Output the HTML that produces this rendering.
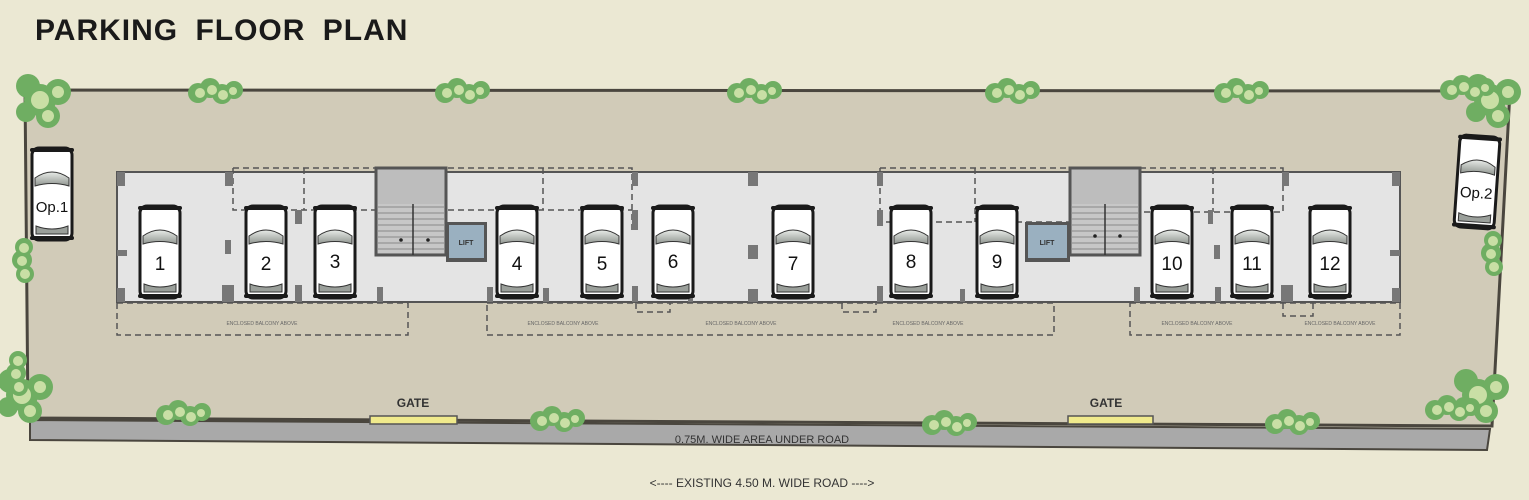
<!DOCTYPE html>
<html><head><meta charset="utf-8"><style>
html,body{margin:0;padding:0;background:#ebe8d3;}
svg{display:block}
text{font-family:"Liberation Sans",sans-serif;}
</style></head><body>
<svg width="1529" height="500" viewBox="0 0 1529 500" xmlns="http://www.w3.org/2000/svg">
<defs>
<linearGradient id="ws" x1="0" y1="0" x2="0" y2="1"><stop offset="0" stop-color="#e8ebe8"/><stop offset="1" stop-color="#8f958f"/></linearGradient>
<g id="car">
 <rect x="-20" y="0" width="40" height="92" rx="7" fill="#fff" stroke="#1a1a1a" stroke-width="3"/>
 <rect x="-22" y="0" width="44" height="4" rx="2" fill="#1a1a1a"/>
 <path d="M-17 30 Q0 18 17 30 L17 38 Q0 33 -17 38Z" fill="url(#ws)" stroke="#333" stroke-width="1"/>
 <path d="M-16 78 Q0 84 16 78 L16 86 L-16 86Z" fill="#9a9f9a" stroke="#333" stroke-width="1"/>
 <rect x="-22" y="88" width="44" height="4" rx="2" fill="#1a1a1a"/>
</g>
<g id="tree">
 <circle cx="0" cy="0" r="10" fill="#6fae62"/>
 <circle cx="12" cy="-5" r="10" fill="#6fae62"/>
 <circle cx="24" cy="1" r="10" fill="#6fae62"/>
 <circle cx="36" cy="-3" r="9" fill="#6fae62"/>
 <circle cx="2" cy="0" r="5" fill="#c9dfa5"/>
 <circle cx="14" cy="-3" r="5" fill="#c9dfa5"/>
 <circle cx="25" cy="2" r="5" fill="#c9dfa5"/>
 <circle cx="35" cy="-2" r="4" fill="#c9dfa5"/>
</g>
<g id="treev">
 <circle cx="0" cy="0" r="9" fill="#6fae62"/>
 <circle cx="-2" cy="13" r="10" fill="#6fae62"/>
 <circle cx="1" cy="27" r="9" fill="#6fae62"/>
 <circle cx="0" cy="1" r="5" fill="#c9dfa5"/>
 <circle cx="-2" cy="14" r="5" fill="#c9dfa5"/>
 <circle cx="1" cy="27" r="5" fill="#c9dfa5"/>
</g>
<g id="bigtree">
 <circle cx="0" cy="0" r="16" fill="#6fae62"/>
 <circle cx="18" cy="-8" r="13" fill="#6fae62"/>
 <circle cx="-12" cy="-14" r="12" fill="#6fae62"/>
 <circle cx="8" cy="16" r="12" fill="#6fae62"/>
 <circle cx="-14" cy="12" r="10" fill="#6fae62"/>
 <circle cx="0" cy="0" r="9" fill="#c9dfa5"/>
 <circle cx="18" cy="-8" r="6" fill="#c9dfa5"/>
 <circle cx="8" cy="16" r="6" fill="#c9dfa5"/>
</g>
</defs>

<text x="35" y="40" font-size="30" font-weight="bold" fill="#1a1a1a" letter-spacing="1" word-spacing="8">PARKING FLOOR PLAN</text>

<polygon points="25,90 1510,91 1492,426 28,418" fill="#d1cbb8" stroke="#4a463e" stroke-width="3"/>
<polygon points="30,420 1490,429 1487,450 30,440" fill="#a9a9a9" stroke="#4a463e" stroke-width="2"/>
<text x="762" y="443" font-size="11" fill="#333" text-anchor="middle">0.75M. WIDE AREA UNDER ROAD</text>
<text x="762" y="487" font-size="12" fill="#333" text-anchor="middle">&lt;---- EXISTING 4.50 M. WIDE ROAD ----&gt;</text>

<text x="413" y="407" font-size="12" font-weight="bold" fill="#333" text-anchor="middle">GATE</text>
<rect x="370" y="416" width="87" height="8" fill="#f0ea8c" stroke="#555" stroke-width="1.5"/>
<text x="1106" y="407" font-size="12" font-weight="bold" fill="#333" text-anchor="middle">GATE</text>
<rect x="1068" y="416" width="85" height="8" fill="#f0ea8c" stroke="#555" stroke-width="1.5"/>

<rect x="117" y="172" width="1283" height="130" fill="#e4e4e4" stroke="#555" stroke-width="2"/>
<g fill="none" stroke="#555" stroke-width="1.5" stroke-dasharray="6,4">
 <path d="M233 168 H376 M233 168 V210 H376 M304 168 V210"/>
 <path d="M448 168 H632 V230 M448 210 H632 M543 168 V210"/>
 <path d="M880 168 H1070 M880 168 V222 H1070 M975 168 V222"/>
 <path d="M1140 168 H1283 V212 H1140 M1213 168 V212"/>
 <rect x="117" y="303" width="291" height="32"/>
 <rect x="487" y="303" width="567" height="32"/>
 <rect x="1130" y="303" width="270" height="32"/>
 <path d="M636 303 V312 H670 V303 M842 303 V312 H876 V303 M1283 303 V316 H1313 V303"/>
</g>
<g font-size="5" fill="#666" text-anchor="middle">
 <text x="262" y="325">ENCLOSED BALCONY ABOVE</text>
 <text x="563" y="325">ENCLOSED BALCONY ABOVE</text>
 <text x="741" y="325">ENCLOSED BALCONY ABOVE</text>
 <text x="928" y="325">ENCLOSED BALCONY ABOVE</text>
 <text x="1197" y="325">ENCLOSED BALCONY ABOVE</text>
 <text x="1340" y="325">ENCLOSED BALCONY ABOVE</text>
</g>
<g fill="#777">
 <rect x="117" y="172" width="8" height="14"/><rect x="117" y="288" width="8" height="14"/><rect x="117" y="250" width="10" height="6"/>
 <rect x="225" y="172" width="8" height="14"/><rect x="225" y="240" width="6" height="14"/><rect x="222" y="285" width="12" height="17"/>
 <rect x="295" y="210" width="7" height="14"/><rect x="295" y="285" width="7" height="17"/>
 <rect x="377" y="287" width="6" height="15"/>
 <rect x="487" y="287" width="6" height="15"/><rect x="543" y="288" width="6" height="14"/>
 <rect x="632" y="172" width="6" height="14"/><rect x="632" y="210" width="6" height="20"/><rect x="632" y="286" width="6" height="16"/>
 <rect x="688" y="286" width="5" height="16"/>
 <rect x="748" y="172" width="10" height="14"/><rect x="748" y="245" width="10" height="14"/><rect x="748" y="289" width="10" height="13"/>
 <rect x="877" y="172" width="6" height="14"/><rect x="877" y="210" width="6" height="16"/><rect x="877" y="286" width="6" height="16"/>
 <rect x="960" y="289" width="5" height="13"/><rect x="983" y="210" width="5" height="14"/>
 <rect x="1134" y="287" width="6" height="15"/><rect x="1208" y="210" width="5" height="14"/><rect x="1214" y="245" width="6" height="14"/>
 <rect x="1215" y="287" width="6" height="15"/><rect x="1282" y="172" width="7" height="14"/><rect x="1281" y="285" width="12" height="17"/>
 <rect x="1392" y="172" width="8" height="14"/><rect x="1390" y="250" width="10" height="6"/><rect x="1392" y="288" width="8" height="14"/>
</g>
<g>
 <rect x="376" y="168" width="70" height="87" fill="#bdbdbd" stroke="#555" stroke-width="3"/>
 <g stroke="#777" stroke-width="1.5">
  <line x1="378" y1="207" x2="444" y2="207"/><line x1="378" y1="213" x2="444" y2="213"/><line x1="378" y1="219" x2="444" y2="219"/>
  <line x1="378" y1="225" x2="444" y2="225"/><line x1="378" y1="231" x2="444" y2="231"/><line x1="378" y1="237" x2="444" y2="237"/>
  <line x1="378" y1="243" x2="444" y2="243"/><line x1="378" y1="249" x2="444" y2="249"/>
 </g>
 <rect x="378" y="204" width="66" height="49" fill="#d8d8d8" opacity="0.4"/>
 <line x1="413" y1="204" x2="413" y2="255" stroke="#333" stroke-width="1.5"/>
 <circle cx="401" cy="240" r="1.8" fill="#222"/><circle cx="428" cy="240" r="1.8" fill="#222"/>
 <rect x="446" y="222" width="41" height="40" fill="#555"/>
 <rect x="449" y="225" width="35" height="33" fill="#9ab0c0"/>
 <text x="466" y="245" font-size="7" font-weight="bold" fill="#333" text-anchor="middle">LIFT</text>
</g>
<g>
 <rect x="1070" y="168" width="70" height="87" fill="#bdbdbd" stroke="#555" stroke-width="3"/>
 <g stroke="#777" stroke-width="1.5">
  <line x1="1072" y1="207" x2="1138" y2="207"/><line x1="1072" y1="213" x2="1138" y2="213"/><line x1="1072" y1="219" x2="1138" y2="219"/>
  <line x1="1072" y1="225" x2="1138" y2="225"/><line x1="1072" y1="231" x2="1138" y2="231"/><line x1="1072" y1="237" x2="1138" y2="237"/>
  <line x1="1072" y1="243" x2="1138" y2="243"/><line x1="1072" y1="249" x2="1138" y2="249"/>
 </g>
 <rect x="1072" y="204" width="66" height="49" fill="#d8d8d8" opacity="0.4"/>
 <line x1="1105" y1="204" x2="1105" y2="255" stroke="#333" stroke-width="1.5"/>
 <circle cx="1095" cy="236" r="1.8" fill="#222"/><circle cx="1120" cy="236" r="1.8" fill="#222"/>
 <rect x="1025" y="222" width="45" height="40" fill="#555"/>
 <rect x="1028" y="225" width="39" height="33" fill="#9ab0c0"/>
 <text x="1047" y="245" font-size="7" font-weight="bold" fill="#333" text-anchor="middle">LIFT</text>
</g>

<g font-size="19" fill="#111" text-anchor="middle">
 <use href="#car" x="160" y="206"/><text x="160" y="270">1</text>
 <use href="#car" x="266" y="206"/><text x="266" y="270">2</text>
 <use href="#car" x="335" y="206"/><text x="335" y="268">3</text>
 <use href="#car" x="517" y="206"/><text x="517" y="270">4</text>
 <use href="#car" x="602" y="206"/><text x="602" y="270">5</text>
 <use href="#car" x="673" y="206"/><text x="673" y="268">6</text>
 <use href="#car" x="793" y="206"/><text x="793" y="270">7</text>
 <use href="#car" x="911" y="206"/><text x="911" y="268">8</text>
 <use href="#car" x="997" y="206"/><text x="997" y="268">9</text>
 <use href="#car" x="1172" y="206"/><text x="1172" y="270">10</text>
 <use href="#car" x="1252" y="206"/><text x="1252" y="270">11</text>
 <use href="#car" x="1330" y="206"/><text x="1330" y="270">12</text>
</g>
<g font-size="15" fill="#111" text-anchor="middle">
 <use href="#car" x="52" y="148"/><text x="52" y="212">Op.1</text>
 <g transform="rotate(4 1477 182)"><use href="#car" x="1477" y="136"/><text x="1477" y="198">Op.2</text></g>
</g>

<use href="#bigtree" x="40" y="100"/>
<use href="#tree" x="198" y="93"/>
<use href="#tree" x="445" y="93"/>
<use href="#tree" x="737" y="93"/>
<use href="#tree" x="995" y="93"/>
<use href="#tree" x="1224" y="93"/>
<use href="#bigtree" x="1490" y="100"/>
<use href="#tree" x="1450" y="90"/>
<use href="#treev" x="24" y="247"/>
<use href="#treev" x="1493" y="240"/>
<use href="#bigtree" x="22" y="395"/>
<use href="#treev" x="18" y="360"/>
<use href="#tree" x="166" y="415"/>
<use href="#tree" x="540" y="421"/>
<use href="#tree" x="932" y="425"/>
<use href="#tree" x="1275" y="424"/>
<use href="#bigtree" x="1478" y="395"/>
<use href="#tree" x="1435" y="410"/>
</svg>
</body></html>
